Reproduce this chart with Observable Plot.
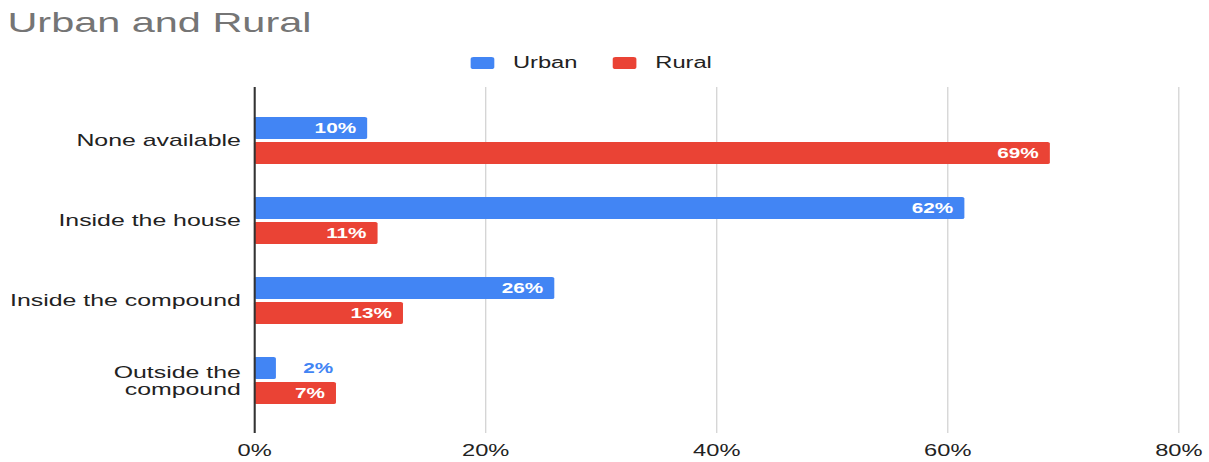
<!DOCTYPE html>
<html><head><meta charset="utf-8">
<script src="https://cdn.jsdelivr.net/npm/d3@7"></script>
<script src="https://cdn.jsdelivr.net/npm/@observablehq/plot@0.6"></script>
<style>
html,body{margin:0;padding:0;background:#fff;overflow:hidden;}
#wrap{position:relative;width:817px;height:462px;transform:scaleX(1.48);transform-origin:0 0;font-family:"Liberation Sans",Arial,sans-serif;}
#title{position:absolute;left:5px;top:9px;font-size:28px;line-height:28px;color:#757575;white-space:nowrap;}
#legend{position:absolute;left:318px;top:55px;height:16px;display:flex;align-items:center;font-size:16px;color:#222;white-space:nowrap;}
#legend .sw{width:16px;height:12px;border-radius:2px;display:inline-block;}
#chart{position:absolute;left:0;top:74px;}
</style>
</head><body>
<div id="wrap">
  <div id="title">Urban and Rural</div>
  <div id="legend"></div>
  <div id="chart"></div>
</div>
<script>
const categories = ["None available", "Inside the house", "Inside the compound", "Outside the\ncompound"];
const urbanValues = [9.8, 61.5, 26.0, 1.9];
const ruralValues = [68.9, 10.7, 12.9, 7.1];
const seriesNames = ["Urban", "Rural"];
const seriesColors = ["#4285f4", "#ea4335"];
const xTicks = [0, 20, 40, 60, 80];

const urban = categories.map((c, i) => ({category: c, value: urbanValues[i]}));
const rural = categories.map((c, i) => ({category: c, value: ruralValues[i]}));

// legend
const legend = document.getElementById("legend");
seriesNames.forEach((name, i) => {
  const sw = document.createElement("span");
  sw.className = "sw";
  sw.style.background = seriesColors[i];
  sw.style.marginRight = "12.6px";
  const lab = document.createElement("span");
  lab.textContent = name;
  if (i < seriesNames.length - 1) lab.style.marginRight = "24px";
  legend.appendChild(sw);
  legend.appendChild(lab);
});

const fmt = v => Math.round(v) + "%";
const inside = d => d.value >= 5;

const chart = Plot.plot({
  width: 817,
  height: 388,
  marginLeft: 171.6,
  marginRight: 21,
  marginTop: 13,
  marginBottom: 29,
  style: {fontFamily: '"Liberation Sans", Arial, sans-serif', fontSize: "16px", color: "#222", background: "#fff"},
  x: {domain: [0, 80], ticks: xTicks, tickFormat: d => d + "%", tickSize: 0, tickPadding: 11, label: null},
  y: {type: "band", domain: categories, paddingInner: 0.416, paddingOuter: 0.357, axis: null, label: null},
  marks: [
    Plot.ruleX(xTicks.filter(t => t > 0), {stroke: "#cccccc", strokeWidth: 0.75, strokeOpacity: 1}),
    Plot.barX(urban, {x: "value", y: "category", fill: seriesColors[0], insetBottom: 25, rx: 1.5}),
    Plot.barX(rural, {x: "value", y: "category", fill: seriesColors[1], insetTop: 25, rx: 1.5}),
    Plot.ruleX([0], {stroke: "#333", strokeWidth: 1.4}),
    Plot.text(urban.filter(inside), {x: "value", y: "category", text: d => fmt(d.value), dy: -12.5, dx: -8, textAnchor: "end", fill: "#fff", fontWeight: "bold", fontSize: 14}),
    Plot.text(urban.filter(d => !inside(d)), {x: "value", y: "category", text: d => fmt(d.value), dy: -12.5, dx: 18, textAnchor: "start", fill: seriesColors[0], fontWeight: "bold", fontSize: 14}),
    Plot.text(rural.filter(inside), {x: "value", y: "category", text: d => fmt(d.value), dy: 12.5, dx: -8, textAnchor: "end", fill: "#fff", fontWeight: "bold", fontSize: 14}),
    Plot.text(rural.filter(d => !inside(d)), {x: "value", y: "category", text: d => fmt(d.value), dy: 12.5, dx: 18, textAnchor: "start", fill: seriesColors[1], fontWeight: "bold", fontSize: 14}),
    Plot.text(categories, {y: d => d, text: d => d, frameAnchor: "left", textAnchor: "end", dx: -9.4, fill: "#222", fontSize: 16.8, lineHeight: 0.98})
  ]
});
document.getElementById("chart").appendChild(chart);
</script>
</body></html>
